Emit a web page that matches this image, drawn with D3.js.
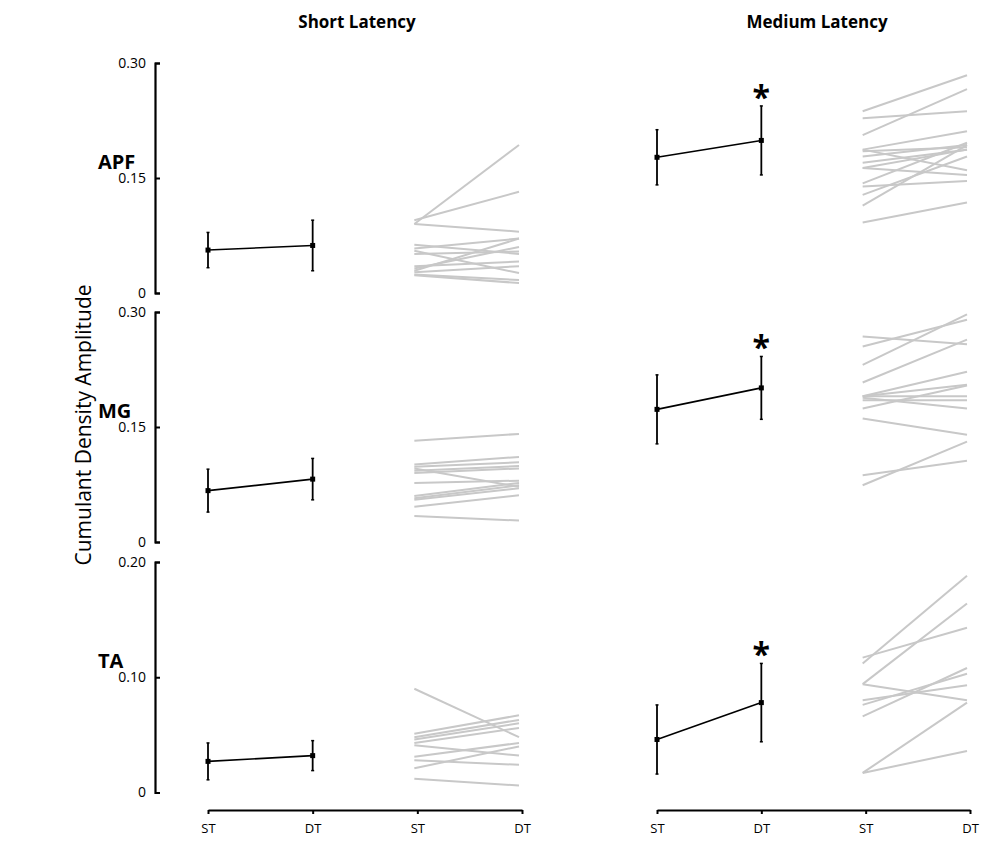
<!DOCTYPE html>
<html>
<head>
<meta charset="utf-8">
<script src="https://cdn.jsdelivr.net/npm/d3@7"></script>
<style>
    body { margin: 0; background: #fff; }
    text { font-family: "Open Sans", sans-serif; }
</style>
</head>
<body>
<script>
document.addEventListener('DOMContentLoaded', init);

// labels
var rowNames = ["APF", "MG", "TA"];
var columnNames = ["Short Latency", "Medium Latency"];
var tickLabels = ["ST", "DT", "ST", "DT"];
var yMax = [0.30, 0.30, 0.20];

// group means and error bars, [ST, DT] per muscle
var shortMean = [[0.056, 0.062], [0.067, 0.082], [0.027, 0.032]];
var shortErr = [[0.023, 0.033], [0.028, 0.027], [0.016, 0.013]];
var mediumMean = [[0.177, 0.199], [0.173, 0.201], [0.046, 0.078]];
var mediumErr = [[0.036, 0.045], [0.045, 0.041], [0.030, 0.034]];
var mediumSignificant = [true, true, true];
var shortSignificant = [false, false, false];

// individual subjects, [ST, DT]
var apfShort = [[0.090, 0.193], [0.095, 0.132], [0.090, 0.080], [0.063, 0.051], [0.058, 0.071],
    [0.055, 0.026], [0.051, 0.054], [0.035, 0.041], [0.032, 0.060], [0.029, 0.071],
    [0.027, 0.035], [0.024, 0.017], [0.023, 0.013]];
var apfMedium = [[0.237, 0.284], [0.228, 0.237], [0.206, 0.266], [0.187, 0.211], [0.187, 0.160],
    [0.185, 0.190], [0.178, 0.193], [0.170, 0.187], [0.163, 0.187], [0.163, 0.154],
    [0.143, 0.196], [0.139, 0.146], [0.128, 0.178], [0.114, 0.193], [0.092, 0.118]];
var mgShort = [[0.132, 0.141], [0.101, 0.111], [0.098, 0.104], [0.096, 0.072], [0.093, 0.099],
    [0.090, 0.096], [0.077, 0.080], [0.060, 0.077], [0.057, 0.074], [0.055, 0.070],
    [0.046, 0.061], [0.034, 0.028]];
var mgMedium = [[0.268, 0.258], [0.255, 0.290], [0.231, 0.297], [0.208, 0.264], [0.190, 0.222],
    [0.190, 0.190], [0.190, 0.205], [0.188, 0.174], [0.185, 0.185], [0.174, 0.204],
    [0.161, 0.140], [0.087, 0.106], [0.074, 0.131]];
var taShort = [[0.090, 0.048], [0.051, 0.067], [0.048, 0.063], [0.046, 0.060], [0.043, 0.056],
    [0.041, 0.032], [0.031, 0.043], [0.028, 0.024], [0.021, 0.040], [0.012, 0.006]];
var taMedium = [[0.112, 0.188], [0.117, 0.143], [0.094, 0.164], [0.094, 0.080], [0.080, 0.093],
    [0.076, 0.103], [0.066, 0.108], [0.017, 0.078], [0.017, 0.036]];

var individuals = [[apfShort, apfMedium], [mgShort, mgMedium], [taShort, taMedium]];

function init() {
    let svgWidth = 990;
    let svgHeight = 842;

    let svg = d3.select("body")
        .append("svg")
        .attr("width", svgWidth)
        .attr("height", svgHeight);

    let rowRanges = [[293, 63], [542, 312], [792.5, 562]];
    let colRanges = [[208, 522], [657, 970]];
    let grayShift = -3;

    let xScales = colRanges.map((r) => d3.scaleLinear().domain([0, 3]).range(r));
    let yScales = rowRanges.map((r, i) => d3.scaleLinear().domain([0, yMax[i]]).range(r));

    // column titles
    svg.selectAll("text.coltitle")
        .data(columnNames)
        .enter()
        .append("text")
        .attr("class", "coltitle")
        .text((d) => d)
        .attr("x", (d, i) => i == 0 ? 357 : 817)
        .attr("y", 28)
        .attr("text-anchor", "middle")
        .attr("font-size", "17px")
        .attr("font-weight", "bold");

    // row labels
    svg.selectAll("text.rowlabel")
        .data(rowNames)
        .enter()
        .append("text")
        .attr("class", "rowlabel")
        .text((d) => d)
        .attr("x", 98)
        .attr("y", (d, i) => yScales[i](yMax[i] / 2) - 9)
        .attr("font-size", "20px")
        .attr("font-weight", "bold");

    // y axis title
    svg.append("text")
        .text("Cumulant Density Amplitude")
        .attr("transform", "translate(91,425) rotate(-90)")
        .attr("text-anchor", "middle")
        .attr("font-size", "21px");

    // y axes (short latency column only)
    yScales.forEach((y, i) => {
        let axis = d3.axisLeft(y)
            .tickValues([0, yMax[i] / 2, yMax[i]])
            .tickFormat((d) => d == 0 ? "0" : d3.format(".2f")(d))
            .tickSizeInner(-5)
            .tickSizeOuter(-5)
            .tickPadding(9);
        let g = svg.append("g")
            .attr("transform", "translate(155,0)")
            .call(axis);
        g.select(".domain").attr("stroke-width", 2.2);
        g.selectAll(".tick line").attr("stroke-width", 2);
        g.selectAll(".tick text")
            .attr("font-size", "14px")
            .attr("font-family", "'Open Sans', sans-serif")
            .attr("fill", "#000");
    });

    // x axes
    xScales.forEach((x) => {
        let axis = d3.axisBottom(x)
            .tickValues([0, 1, 2, 3])
            .tickFormat((d) => tickLabels[d])
            .tickSizeInner(4)
            .tickSizeOuter(0)
            .tickPadding(10);
        let g = svg.append("g")
            .attr("transform", "translate(0,810)")
            .call(axis);
        g.select(".domain").attr("stroke-width", 2.2);
        g.selectAll(".tick line").attr("stroke-width", 2);
        g.selectAll(".tick text")
            .attr("font-size", "13px")
            .attr("font-family", "'Open Sans', sans-serif")
            .attr("fill", "#000");
    });

    let means = [shortMean, mediumMean];
    let errs = [shortErr, mediumErr];
    let sigs = [shortSignificant, mediumSignificant];

    rowNames.forEach((name, r) => {
        let y = yScales[r];
        [0, 1].forEach((c) => {
            let x = xScales[c];
            let panel = svg.append("g");

            // individual subjects
            panel.selectAll("line.subject")
                .data(individuals[r][c])
                .enter()
                .append("line")
                .attr("class", "subject")
                .attr("x1", x(2) + grayShift)
                .attr("x2", x(3) + grayShift)
                .attr("y1", (d) => y(d[0]))
                .attr("y2", (d) => y(d[1]))
                .attr("stroke", "#c8c8c8")
                .attr("stroke-width", 2);

            let groupData = means[c][r].map((m, i) => ({ i: i, m: m, e: errs[c][r][i] }));

            // error bars
            panel.selectAll("line.err")
                .data(groupData)
                .enter()
                .append("line")
                .attr("class", "err")
                .attr("x1", (d) => x(d.i))
                .attr("x2", (d) => x(d.i))
                .attr("y1", (d) => y(d.m - d.e))
                .attr("y2", (d) => y(d.m + d.e))
                .attr("stroke", "#000")
                .attr("stroke-width", 1.8);

            // caps
            panel.selectAll("line.cap")
                .data(groupData.flatMap((d) => [{ i: d.i, v: d.m - d.e }, { i: d.i, v: d.m + d.e }]))
                .enter()
                .append("line")
                .attr("class", "cap")
                .attr("x1", (d) => x(d.i) - 1.5)
                .attr("x2", (d) => x(d.i) + 1.5)
                .attr("y1", (d) => y(d.v))
                .attr("y2", (d) => y(d.v))
                .attr("stroke", "#000")
                .attr("stroke-width", 1.5);

            // mean line
            panel.append("line")
                .attr("x1", x(0))
                .attr("x2", x(1))
                .attr("y1", y(groupData[0].m))
                .attr("y2", y(groupData[1].m))
                .attr("stroke", "#000")
                .attr("stroke-width", 1.6);

            // markers
            panel.selectAll("rect.marker")
                .data(groupData)
                .enter()
                .append("rect")
                .attr("class", "marker")
                .attr("x", (d) => x(d.i) - 2.5)
                .attr("y", (d) => y(d.m) - 2.5)
                .attr("width", 5)
                .attr("height", 5)
                .attr("fill", "#000");

            // significance star
            if (sigs[c][r]) {
                let top = groupData[1];
                panel.append("text")
                    .text("*")
                    .attr("x", x(1))
                    .attr("y", y(top.m + top.e) + 3)
                    .attr("text-anchor", "middle")
                    .attr("font-size", "32px")
                    .attr("font-weight", "bold");
            }
        });
    });
}
</script>
</body>
</html>
